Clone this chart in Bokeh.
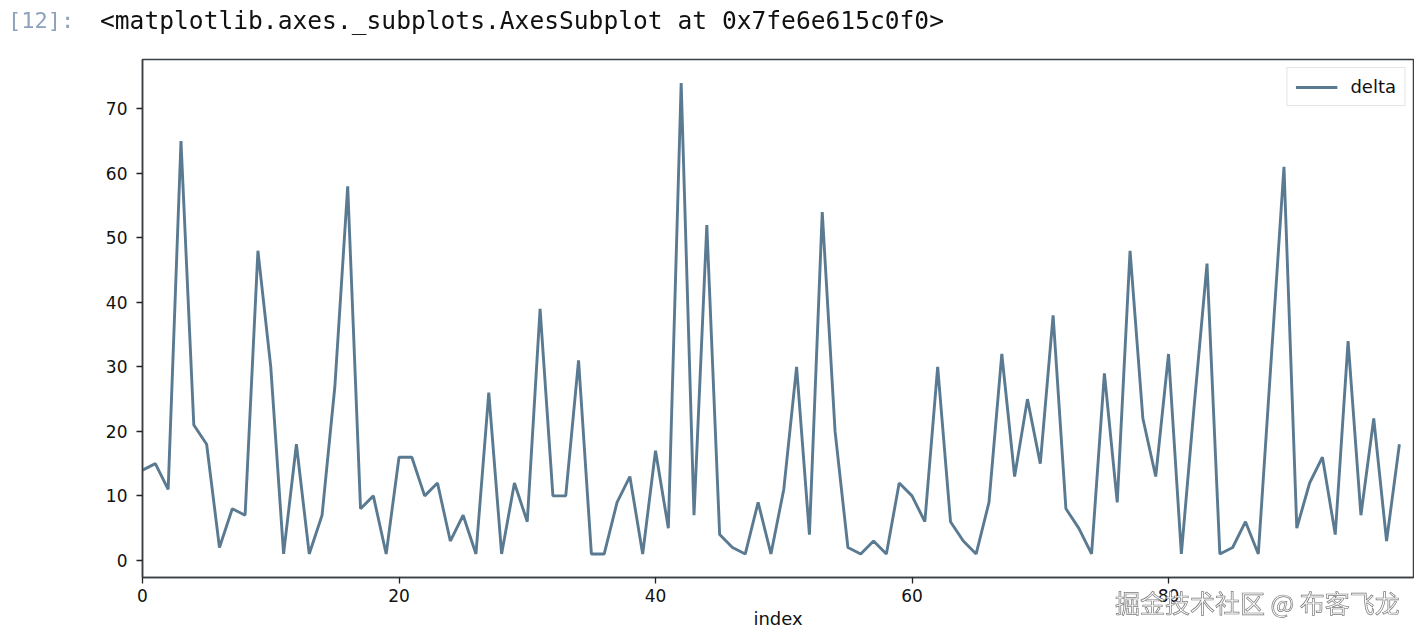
from bokeh.plotting import figure
from bokeh.layouts import column
from bokeh.models import (Range1d, FixedTicker, Legend, LegendItem,
                          ColumnDataSource, Div)
from bokeh.embed import file_html
from bokeh.resources import INLINE

# ---- data ----
index = list(range(99))
delta = [14, 15, 11, 65, 21, 18, 2, 8, 7, 48,
         30, 1, 18, 1, 7, 27, 58, 8, 10, 1,
         16, 16, 10, 12, 3, 7, 1, 26, 1, 12,
         6, 39, 10, 10, 31, 1, 1, 9, 13, 1,
         17, 5, 74, 7, 52, 4, 2, 1, 9, 1,
         11, 30, 4, 54, 20, 2, 1, 3, 1, 12,
         10, 6, 30, 6, 3, 1, 9, 32, 13, 25,
         15, 38, 8, 5, 1, 29, 9, 48, 22, 13,
         32, 1, 24, 46, 1, 2, 6, 1, 31, 61,
         5, 12, 16, 4, 34, 7, 22, 3, 18]
x_ticks = [0, 20, 40, 60, 80]
y_ticks = [0, 10, 20, 30, 40, 50, 60, 70]
series_name = "delta"
x_label = "index"
prompt_text = "[12]:"
out_text = "<matplotlib.axes._subplots.AxesSubplot at 0x7fe6e615c0f0>"
watermark = "掘金技术社区 @ 布客飞龙"

src = ColumnDataSource(data=dict(x=index, y=delta))

W, H = 1414, 633
p = figure(width=W, height=H, output_backend="svg", toolbar_location=None,
           x_range=Range1d(0, 99.1), y_range=Range1d(-2.65, 77.65),
           min_border_left=142, min_border_right=1,
           min_border_top=59, min_border_bottom=56)
p.background_fill_color = "white"
p.border_fill_color = "white"
p.outline_line_color = "#3a3f44"
p.outline_line_width = 1.5
p.xgrid.visible = False
p.ygrid.visible = False

line_color = "#5a7a92"
r = p.line("x", "y", source=src, line_color=line_color, line_width=2.9)

for ax in (p.xaxis[0], p.yaxis[0]):
    ax.axis_line_color = "#3a3f44"
    ax.axis_line_width = 1.5
    ax.major_tick_line_color = "#222222"
    ax.major_tick_line_width = 1.3
    ax.major_tick_out = 6
    ax.major_tick_in = 0
    ax.minor_tick_line_color = None
    ax.major_label_text_font = "DejaVu Sans"
    ax.major_label_text_font_size = "17px"
    ax.major_label_text_color = "#111111"

p.xaxis.ticker = FixedTicker(ticks=x_ticks)
p.yaxis.ticker = FixedTicker(ticks=y_ticks)
p.xaxis.major_label_standoff = 5
p.yaxis.major_label_standoff = 9
p.xaxis.axis_label = x_label
p.xaxis.axis_label_text_font = "DejaVu Sans"
p.xaxis.axis_label_text_font_size = "18px"
p.xaxis.axis_label_text_font_style = "normal"
p.xaxis.axis_label_text_color = "#111111"
p.xaxis.axis_label_standoff = 3

legend = Legend(items=[LegendItem(label=series_name, renderers=[r])],
                location="top_right")
legend.border_line_color = "#cccccc"
legend.border_line_width = 1
legend.background_fill_color = "white"
legend.background_fill_alpha = 0.9
legend.label_text_font = "DejaVu Sans"
legend.label_text_font_size = "18px"
legend.label_text_color = "#111111"
legend.glyph_width = 42
legend.glyph_height = 18
legend.label_standoff = 13
legend.padding = 8
legend.margin = 8
p.add_layout(legend)

# notebook prompt / output line and the watermark, as real HTML text
html = (
    '<span style="position:fixed;left:8px;top:9px;margin:0;'
    'font-family:\'DejaVu Sans Mono\',monospace;font-size:22px;line-height:24px;'
    'color:#8ea3bb;white-space:pre;">' + prompt_text + '</span>'
    '<span style="position:fixed;left:100px;top:8px;margin:0;'
    'font-family:\'DejaVu Sans Mono\',monospace;font-size:24.6px;line-height:26px;'
    'color:#111111;white-space:pre;">'
    + out_text.replace("<", "&lt;").replace(">", "&gt;") + '</span>'
    '<span style="position:fixed;left:1115px;top:588px;margin:0;'
    'font-family:\'Noto Sans CJK SC\',sans-serif;font-size:25px;line-height:28px;'
    'color:#fbfbfb;-webkit-text-stroke:0.7px #7a7a7a;white-space:pre;'
    'z-index:10;">' + watermark + '</span>'
)
notes = Div(text=html, width=1, height=1, styles={"overflow": "visible"})

layout = column(p, notes, spacing=0)
open("out.html", "w").write(file_html(layout, INLINE))
